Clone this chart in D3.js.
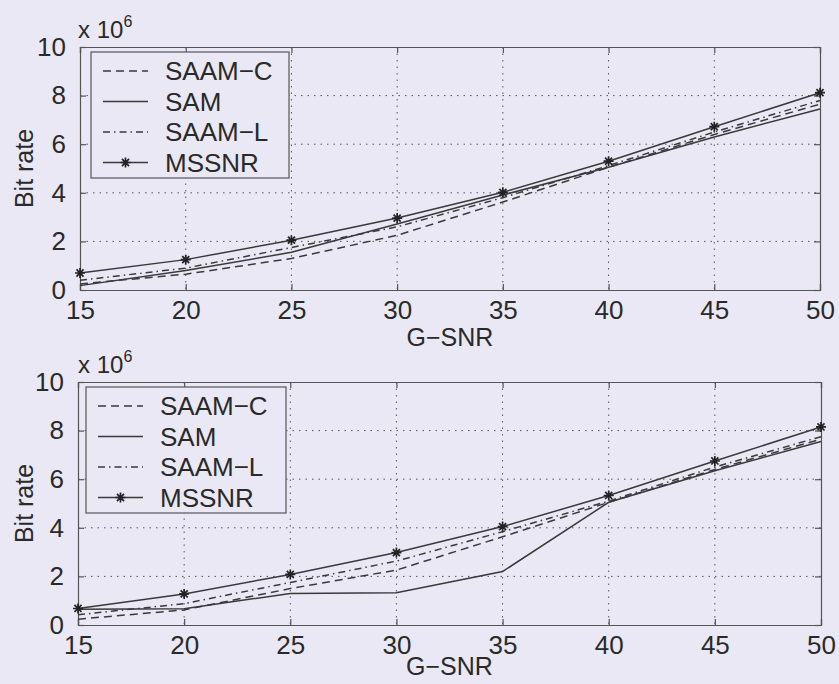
<!DOCTYPE html>
<html><head><meta charset="utf-8">
<script src="https://cdn.jsdelivr.net/npm/d3@7"></script>
<style>
html,body{margin:0;padding:0;background:#e9e8f4;}
svg{display:block;font-family:"Liberation Sans",Arial,Helvetica,sans-serif;}
</style></head><body>
<svg id="c" width="839" height="684"></svg>
<script>
// ---- data ----
const snr = [15, 20, 25, 30, 35, 40, 45, 50];
const xTicks = [15, 20, 25, 30, 35, 40, 45, 50];
const yTicks = [0, 2, 4, 6, 8, 10];
const seriesNames = ["SAAM\u2212C", "SAM", "SAAM\u2212L", "MSSNR"];
const xLabel = "G\u2212SNR";
const yLabel = "Bit rate";

// top panel (x 10^6)
const topSAAMC = [0.25, 0.65, 1.30, 2.25, 3.62, 5.05, 6.40, 7.65];
const topSAM   = [0.18, 0.80, 1.55, 2.72, 3.91, 5.05, 6.30, 7.45];
const topSAAML = [0.40, 0.90, 1.75, 2.60, 3.80, 5.12, 6.50, 7.80];
const topMSSNR = [0.70, 1.25, 2.05, 2.96, 4.02, 5.30, 6.72, 8.12];

// bottom panel (x 10^6)
const botSAAMC = [0.24, 0.62, 1.50, 2.26, 3.63, 5.05, 6.40, 7.65];
const botSAM   = [0.65, 0.67, 1.30, 1.33, 2.20, 5.05, 6.35, 7.55];
const botSAAML = [0.42, 0.88, 1.75, 2.63, 3.84, 5.10, 6.50, 7.75];
const botMSSNR = [0.68, 1.28, 2.08, 2.98, 4.05, 5.33, 6.75, 8.15];

// ---- layout / style ----
const panels = [
  {l: 80, t: 47, r: 820, b: 290, leg: {x: 91, y: 52, w: 198, h: 126}, xlabY: 346,
   series: [topSAAMC, topSAM, topSAAML, topMSSNR]},
  {l: 78, t: 382, r: 821, b: 625, leg: {x: 86, y: 387, w: 200, h: 126}, xlabY: 675,
   series: [botSAAMC, botSAM, botSAAML, botMSSNR]}
];
const lineColor = "#3a3a3a";
const textColor = "#2a2a2a";
const styles = [
  {dash: "8,5"},
  {dash: null},
  {dash: "7,4,1.5,4"},
  {dash: null, marker: true}
];

const svg = d3.select("#c");

function starPath(s) {
  const d = s * 0.7071;
  return `M${-s},0L${s},0M0,${-s}L0,${s}M${-d},${-d}L${d},${d}M${-d},${d}L${d},${-d}`;
}

panels.forEach(p => {
  const g = svg.append("g");
  const x = d3.scaleLinear().domain([15, 50]).range([p.l, p.r]);
  const y = d3.scaleLinear().domain([0, 10]).range([p.b, p.t]);

  // grid
  g.append("g").selectAll("line").data(xTicks.slice(1, -1)).join("line")
    .attr("x1", d => x(d)).attr("x2", d => x(d)).attr("y1", p.t).attr("y2", p.b)
    .attr("stroke", "#555").attr("stroke-width", 1).attr("stroke-dasharray", "1.5,5");
  g.append("g").selectAll("line").data(yTicks.slice(1, -1)).join("line")
    .attr("y1", d => y(d)).attr("y2", d => y(d)).attr("x1", p.l).attr("x2", p.r)
    .attr("stroke", "#555").attr("stroke-width", 1).attr("stroke-dasharray", "1.5,5");

  // axes with inner ticks
  const tl = 6;
  const xb = g.append("g").attr("transform", `translate(0,${p.b})`)
    .call(d3.axisBottom(x).tickValues(xTicks).tickSize(-tl).tickPadding(16).tickFormat(d3.format("d")));
  const xt = g.append("g").attr("transform", `translate(0,${p.t})`)
    .call(d3.axisTop(x).tickValues(xTicks).tickSize(-tl).tickFormat(""));
  const yl = g.append("g").attr("transform", `translate(${p.l},0)`)
    .call(d3.axisLeft(y).tickValues(yTicks).tickSize(-tl).tickPadding(8 + tl).tickFormat(d3.format("d")));
  const yr = g.append("g").attr("transform", `translate(${p.r},0)`)
    .call(d3.axisRight(y).tickValues(yTicks).tickSize(-tl).tickFormat(""));
  [xb, xt, yl, yr].forEach(a => {
    a.select(".domain").attr("stroke", "#555").attr("stroke-width", 1.2);
    a.selectAll(".tick line").attr("stroke", "#555").attr("stroke-width", 1.2);
    a.selectAll("text").attr("fill", textColor).attr("font-size", 26)
      .attr("font-family", '"Liberation Sans",Arial,sans-serif');
  });
  xb.selectAll("text").attr("dy", "0.5em");

  // multiplier
  const mt = g.append("text").attr("x", 78).attr("y", p.t - 9)
    .attr("font-size", 24).attr("fill", textColor);
  mt.append("tspan").text("x 10");
  mt.append("tspan").attr("dy", -11).attr("font-size", 16).text("6");

  // labels
  g.append("text").attr("x", (p.l + p.r) / 2).attr("y", p.xlabY)
    .attr("text-anchor", "middle").attr("font-size", 25).attr("fill", textColor).text(xLabel);
  g.append("text").attr("transform", `translate(33,${(p.t + p.b) / 2}) rotate(-90)`)
    .attr("text-anchor", "middle").attr("font-size", 25).attr("fill", textColor).text(yLabel);

  // series
  const line = d3.line().x((d, i) => x(snr[i])).y(d => y(d));
  p.series.forEach((vals, si) => {
    const st = styles[si];
    g.append("path").datum(vals).attr("d", line)
      .attr("fill", "none").attr("stroke", lineColor).attr("stroke-width", 1.5)
      .attr("stroke-dasharray", st.dash);
    if (st.marker) {
      g.append("g").selectAll("path").data(vals).join("path")
        .attr("transform", (d, i) => `translate(${x(snr[i])},${y(d)})`)
        .attr("d", starPath(5)).attr("stroke", "#222").attr("stroke-width", 1.7).attr("fill", "none");
    }
  });

  // legend
  const L = p.leg;
  const lg = g.append("g");
  lg.append("rect").attr("x", L.x).attr("y", L.y).attr("width", L.w).attr("height", L.h)
    .attr("fill", "#e9e8f4").attr("stroke", "#555").attr("stroke-width", 1.2);
  seriesNames.forEach((name, i) => {
    const cy = L.y + 19 + i * 30.5;
    const st = styles[i];
    lg.append("line").attr("x1", L.x + 12).attr("x2", L.x + 57).attr("y1", cy).attr("y2", cy)
      .attr("stroke", lineColor).attr("stroke-width", 1.5).attr("stroke-dasharray", st.dash);
    if (st.marker) {
      lg.append("path").attr("transform", `translate(${L.x + 34.5},${cy})`)
        .attr("d", starPath(5)).attr("stroke", "#222").attr("stroke-width", 1.7).attr("fill", "none");
    }
    lg.append("text").attr("x", L.x + 74).attr("y", cy).attr("dy", "0.36em")
      .attr("font-size", 26).attr("fill", textColor).text(name);
  });
});
</script>
</body></html>
